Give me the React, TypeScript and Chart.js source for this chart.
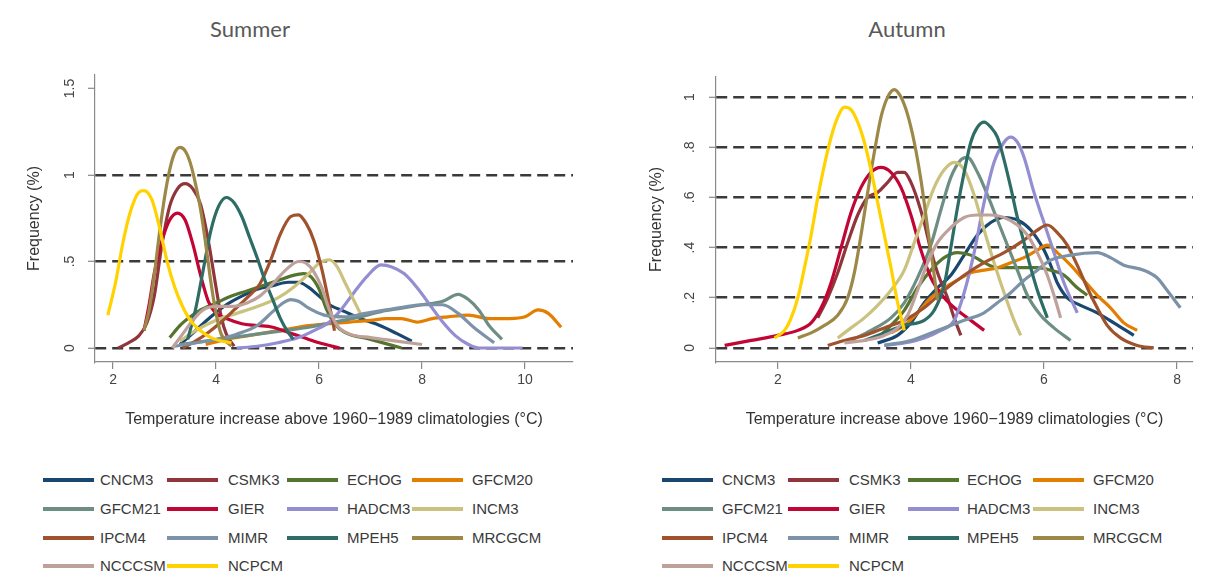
import React, { useEffect, useRef } from "react";
import { Chart, registerables } from "chart.js";
Chart.register(...registerables);

// ---------- data ----------
const MODELS = ["CNCM3", "CSMK3", "ECHOG", "GFCM20", "GFCM21", "GIER", "HADCM3", "INCM3", "IPCM4", "MIMR", "MPEH5", "MRCGCM", "NCCCSM", "NCPCM"];
const COLORS = ["#1a476f", "#90353b", "#55752f", "#e37e00", "#6e8e84", "#c10534", "#938dd2", "#cac27e", "#a0522d", "#7b92a8", "#2d6d66", "#9c8847", "#bfa19c", "#ffd200"];

const X_TITLE = "Temperature increase above 1960\u22121989 climatologies (\u00B0C)";
const Y_TITLE = "Frequency (%)";

const summerXTicks = [2, 4, 6, 8, 10];
const summerYTicks = [0, 0.5, 1, 1.5];
const summerYLabels = ["0", ".5", "1", "1.5"];
const summerDashed = [0, 0.5, 1];

const autumnXTicks = [2, 4, 6, 8];
const autumnYTicks = [0, 0.2, 0.4, 0.6, 0.8, 1];
const autumnYLabels = ["0", ".2", ".4", ".6", ".8", "1"];
const autumnDashed = [0, 0.2, 0.4, 0.6, 0.8, 1];

// Summer series [temperature, frequency]
const summerCNCM3 = [[3.3, 0.02], [3.6, 0.1], [3.9, 0.18], [4.2, 0.25], [4.5, 0.3], [4.8, 0.34], [5.1, 0.36], [5.4, 0.38], [5.6, 0.38], [5.8, 0.35], [6.0, 0.3], [6.2, 0.25], [6.5, 0.21], [6.8, 0.17], [7.1, 0.14], [7.4, 0.1], [7.6, 0.07], [7.8, 0.04]];
const summerCSMK3 = [[2.1, 0], [2.3, 0.03], [2.5, 0.07], [2.65, 0.14], [2.8, 0.3], [2.95, 0.6], [3.1, 0.82], [3.25, 0.92], [3.4, 0.95], [3.55, 0.92], [3.7, 0.83], [3.85, 0.62], [4.0, 0.35], [4.1, 0.18], [4.2, 0.08], [4.35, 0.01]];
const summerECHOG = [[3.1, 0.06], [3.3, 0.13], [3.5, 0.18], [3.7, 0.22], [4.0, 0.26], [4.3, 0.3], [4.6, 0.33], [4.9, 0.36], [5.2, 0.39], [5.5, 0.42], [5.7, 0.43], [5.85, 0.41], [6.0, 0.34], [6.15, 0.22], [6.3, 0.14], [6.5, 0.09], [7.0, 0.05], [7.6, 0.0]];
const summerGFCM20 = [[3.8, 0.02], [4.2, 0.05], [4.6, 0.07], [5.0, 0.09], [5.4, 0.11], [5.8, 0.13], [6.2, 0.14], [6.6, 0.15], [7.0, 0.16], [7.3, 0.17], [7.6, 0.17], [7.9, 0.15], [8.2, 0.17], [8.5, 0.18], [8.9, 0.19], [9.3, 0.17], [9.7, 0.17], [10.0, 0.18], [10.25, 0.22], [10.45, 0.2], [10.7, 0.12]];
const summerGFCM21 = [[3.3, 0.02], [3.8, 0.04], [4.3, 0.06], [4.8, 0.08], [5.3, 0.1], [5.8, 0.12], [6.3, 0.15], [6.8, 0.18], [7.2, 0.21], [7.6, 0.23], [8.0, 0.25], [8.4, 0.27], [8.7, 0.31], [8.9, 0.28], [9.1, 0.22], [9.3, 0.13], [9.55, 0.05]];
const summerGIER = [[2.6, 0.1], [2.7, 0.25], [2.8, 0.43], [2.95, 0.62], [3.1, 0.74], [3.25, 0.78], [3.4, 0.74], [3.55, 0.6], [3.7, 0.42], [3.85, 0.27], [4.0, 0.2], [4.2, 0.17], [4.5, 0.14], [4.8, 0.13], [5.1, 0.12], [5.4, 0.09], [5.7, 0.06], [6.0, 0.03], [6.4, 0.0]];
const summerHADCM3 = [[4.4, 0.0], [4.8, 0.01], [5.2, 0.03], [5.6, 0.06], [5.9, 0.1], [6.2, 0.15], [6.45, 0.23], [6.7, 0.33], [6.95, 0.42], [7.2, 0.48], [7.4, 0.47], [7.65, 0.43], [7.9, 0.35], [8.15, 0.25], [8.4, 0.15], [8.65, 0.07], [8.9, 0.02], [9.1, 0.0], [9.5, 0.0], [9.95, 0.0]];
const summerINCM3 = [[3.3, 0.04], [3.6, 0.1], [4.0, 0.16], [4.4, 0.2], [4.8, 0.24], [5.2, 0.29], [5.5, 0.35], [5.8, 0.43], [6.0, 0.49], [6.2, 0.51], [6.35, 0.47], [6.5, 0.38], [6.65, 0.29], [6.8, 0.2]];
const summerIPCM4 = [[3.35, 0.0], [3.6, 0.04], [3.85, 0.09], [4.1, 0.15], [4.35, 0.22], [4.6, 0.29], [4.85, 0.37], [5.05, 0.5], [5.25, 0.66], [5.45, 0.76], [5.6, 0.77], [5.75, 0.72], [5.9, 0.62], [6.05, 0.46], [6.2, 0.25], [6.3, 0.1]];
const summerMIMR = [[3.2, 0.01], [3.6, 0.03], [4.0, 0.05], [4.4, 0.08], [4.8, 0.13], [5.1, 0.21], [5.3, 0.26], [5.45, 0.28], [5.6, 0.27], [5.8, 0.23], [6.1, 0.19], [6.5, 0.18], [6.9, 0.2], [7.3, 0.22], [7.7, 0.24], [8.0, 0.25], [8.4, 0.25], [8.7, 0.2], [9.0, 0.12], [9.4, 0.03]];
const summerMPEH5 = [[3.45, 0.05], [3.6, 0.22], [3.75, 0.45], [3.9, 0.68], [4.05, 0.82], [4.2, 0.87], [4.35, 0.84], [4.5, 0.76], [4.65, 0.64], [4.8, 0.52], [4.95, 0.39], [5.1, 0.28], [5.25, 0.17], [5.4, 0.09], [5.5, 0.05]];
const summerMRCGCM = [[2.6, 0.1], [2.7, 0.22], [2.8, 0.42], [2.9, 0.66], [3.0, 0.87], [3.1, 1.03], [3.2, 1.13], [3.3, 1.16], [3.4, 1.14], [3.5, 1.07], [3.6, 0.95], [3.7, 0.8], [3.8, 0.6], [3.9, 0.38], [4.0, 0.2], [4.1, 0.08], [4.3, 0.01]];
const summerNCCCSM = [[3.15, 0.0], [3.35, 0.08], [3.55, 0.16], [3.75, 0.22], [4.0, 0.24], [4.3, 0.24], [4.6, 0.26], [4.85, 0.3], [5.1, 0.37], [5.35, 0.45], [5.6, 0.5], [5.75, 0.49], [5.9, 0.44], [6.05, 0.35], [6.2, 0.22], [6.35, 0.13], [6.6, 0.08], [7.0, 0.06], [7.5, 0.04], [8.0, 0.02]];
const summerNCPCM = [[1.9, 0.19], [2.05, 0.38], [2.2, 0.62], [2.35, 0.8], [2.5, 0.9], [2.6, 0.91], [2.75, 0.86], [2.9, 0.7], [3.05, 0.5], [3.2, 0.35], [3.35, 0.24], [3.5, 0.16], [3.7, 0.1], [3.9, 0.06], [4.1, 0.04], [4.3, 0.03]];

// Autumn series [temperature, frequency]
const autumnCNCM3 = [[3.5, 0.02], [3.8, 0.05], [4.0, 0.1], [4.2, 0.18], [4.4, 0.24], [4.6, 0.29], [4.8, 0.37], [5.0, 0.45], [5.2, 0.5], [5.4, 0.52], [5.6, 0.51], [5.8, 0.47], [6.0, 0.39], [6.1, 0.33], [6.2, 0.26], [6.35, 0.2], [6.55, 0.17], [6.8, 0.14], [7.05, 0.1], [7.35, 0.05]];
const autumnCSMK3 = [[2.6, 0.12], [2.75, 0.2], [2.9, 0.3], [3.05, 0.42], [3.2, 0.53], [3.35, 0.6], [3.5, 0.62], [3.65, 0.66], [3.8, 0.7], [3.9, 0.7], [4.0, 0.66], [4.1, 0.59], [4.2, 0.5], [4.3, 0.39], [4.4, 0.3], [4.55, 0.2], [4.65, 0.12], [4.75, 0.05]];
const autumnECHOG = [[3.5, 0.04], [3.7, 0.09], [3.9, 0.15], [4.1, 0.24], [4.3, 0.31], [4.5, 0.36], [4.7, 0.38], [4.9, 0.37], [5.1, 0.34], [5.3, 0.32], [5.6, 0.32], [5.9, 0.32], [6.1, 0.31], [6.3, 0.29], [6.5, 0.24], [6.65, 0.21]];
const autumnGFCM20 = [[3.7, 0.06], [3.9, 0.09], [4.1, 0.14], [4.3, 0.2], [4.5, 0.24], [4.7, 0.27], [4.9, 0.3], [5.1, 0.31], [5.3, 0.32], [5.5, 0.34], [5.7, 0.36], [5.9, 0.39], [6.05, 0.41], [6.2, 0.38], [6.4, 0.33], [6.6, 0.27], [6.8, 0.21], [7.0, 0.16], [7.2, 0.1], [7.4, 0.07]];
const autumnGFCM21 = [[3.1, 0.03], [3.4, 0.07], [3.7, 0.12], [3.9, 0.18], [4.1, 0.28], [4.3, 0.41], [4.45, 0.55], [4.6, 0.68], [4.75, 0.75], [4.85, 0.76], [5.0, 0.7], [5.15, 0.61], [5.3, 0.51], [5.45, 0.41], [5.6, 0.31], [5.75, 0.21], [5.95, 0.13], [6.15, 0.08], [6.4, 0.03]];
const autumnGIER = [[1.2, 0.01], [1.6, 0.03], [2.0, 0.05], [2.3, 0.07], [2.5, 0.1], [2.65, 0.16], [2.8, 0.26], [2.95, 0.4], [3.1, 0.54], [3.25, 0.64], [3.4, 0.7], [3.55, 0.72], [3.7, 0.7], [3.85, 0.64], [4.0, 0.53], [4.15, 0.39], [4.3, 0.28], [4.5, 0.2], [4.7, 0.15], [4.9, 0.11], [5.1, 0.07]];
const autumnHADCM3 = [[3.6, 0.01], [3.9, 0.02], [4.2, 0.04], [4.45, 0.07], [4.65, 0.11], [4.8, 0.22], [4.95, 0.38], [5.1, 0.58], [5.25, 0.74], [5.4, 0.82], [5.5, 0.84], [5.6, 0.82], [5.7, 0.76], [5.85, 0.62], [6.0, 0.5], [6.15, 0.38], [6.3, 0.26], [6.5, 0.14]];
const autumnINCM3 = [[2.9, 0.04], [3.1, 0.08], [3.3, 0.12], [3.5, 0.17], [3.7, 0.23], [3.9, 0.31], [4.05, 0.42], [4.2, 0.53], [4.35, 0.64], [4.5, 0.71], [4.65, 0.74], [4.8, 0.71], [4.95, 0.61], [5.1, 0.47], [5.25, 0.34], [5.4, 0.22], [5.55, 0.11], [5.65, 0.05]];
const autumnIPCM4 = [[2.75, 0.01], [3.0, 0.03], [3.3, 0.05], [3.6, 0.08], [3.9, 0.11], [4.2, 0.16], [4.5, 0.23], [4.8, 0.29], [5.1, 0.34], [5.4, 0.38], [5.7, 0.43], [5.9, 0.47], [6.05, 0.49], [6.2, 0.46], [6.35, 0.41], [6.5, 0.33], [6.65, 0.24], [6.8, 0.16], [6.95, 0.09], [7.15, 0.04], [7.4, 0.01], [7.65, 0.0]];
const autumnMIMR = [[3.6, 0.01], [4.0, 0.03], [4.4, 0.07], [4.8, 0.11], [5.1, 0.14], [5.3, 0.18], [5.5, 0.22], [5.7, 0.27], [5.9, 0.31], [6.1, 0.35], [6.4, 0.37], [6.8, 0.38], [7.0, 0.36], [7.2, 0.33], [7.5, 0.31], [7.7, 0.28], [7.85, 0.23], [8.05, 0.16]];
const autumnMPEH5 = [[3.3, 0.03], [3.6, 0.06], [3.9, 0.09], [4.2, 0.11], [4.35, 0.15], [4.5, 0.25], [4.6, 0.4], [4.7, 0.56], [4.8, 0.7], [4.9, 0.82], [5.0, 0.88], [5.1, 0.9], [5.2, 0.88], [5.3, 0.84], [5.4, 0.75], [5.5, 0.64], [5.6, 0.52], [5.7, 0.42], [5.8, 0.32], [5.9, 0.23], [6.05, 0.12]];
const autumnMRCGCM = [[2.3, 0.04], [2.5, 0.06], [2.7, 0.09], [2.9, 0.13], [3.05, 0.2], [3.15, 0.3], [3.25, 0.45], [3.35, 0.62], [3.45, 0.78], [3.55, 0.92], [3.65, 1.0], [3.75, 1.03], [3.85, 1.0], [3.95, 0.93], [4.05, 0.82], [4.15, 0.67], [4.25, 0.48], [4.35, 0.29], [4.4, 0.19]];
const autumnNCCCSM = [[3.0, 0.02], [3.3, 0.03], [3.6, 0.05], [3.8, 0.08], [3.95, 0.13], [4.1, 0.23], [4.25, 0.34], [4.4, 0.42], [4.6, 0.48], [4.8, 0.52], [5.0, 0.53], [5.2, 0.53], [5.4, 0.52], [5.6, 0.49], [5.75, 0.45], [5.9, 0.38], [6.05, 0.29], [6.15, 0.21], [6.25, 0.12]];
const autumnNCPCM = [[1.95, 0.04], [2.1, 0.07], [2.2, 0.12], [2.3, 0.2], [2.4, 0.32], [2.5, 0.45], [2.6, 0.6], [2.7, 0.73], [2.8, 0.84], [2.9, 0.92], [3.0, 0.96], [3.1, 0.95], [3.2, 0.9], [3.3, 0.82], [3.4, 0.71], [3.5, 0.58], [3.6, 0.45], [3.7, 0.32], [3.8, 0.18], [3.9, 0.07]];

const summerSeries = [summerCNCM3, summerCSMK3, summerECHOG, summerGFCM20, summerGFCM21, summerGIER, summerHADCM3, summerINCM3, summerIPCM4, summerMIMR, summerMPEH5, summerMRCGCM, summerNCCCSM, summerNCPCM];
const autumnSeries = [autumnCNCM3, autumnCSMK3, autumnECHOG, autumnGFCM20, autumnGFCM21, autumnGIER, autumnHADCM3, autumnINCM3, autumnIPCM4, autumnMIMR, autumnMPEH5, autumnMRCGCM, autumnNCCCSM, autumnNCPCM];

// ---------- chart ----------
const FONT = "'Liberation Sans', Arial, Helvetica, sans-serif";
const CANVAS_H = 440;

type PanelProps = {
  left: number; width: number; padTop: number; padRight: number; yAxisWidth: number;
  series: number[][][]; xMin: number; xMax: number; yMin: number; yMax: number;
  xTicks: number[]; yTicks: number[]; yLabels: string[]; dashed: number[];
  yTickPad: number; yTitlePad: number;
};

function Panel(p: PanelProps) {
  const ref = useRef<HTMLCanvasElement | null>(null);
  useEffect(() => {
    if (!ref.current) return;
    const n = MODELS.length;
    const chart = new Chart(ref.current, {
      type: "line",
      data: {
        datasets: MODELS.map((m, i) => ({
          label: m,
          data: p.series[i].map(([x, y]) => ({ x, y })),
          borderColor: COLORS[i],
          backgroundColor: COLORS[i],
          borderWidth: 3.2,
          pointRadius: 0,
          fill: false,
          cubicInterpolationMode: "monotone" as const,
          order: n - i,
        })),
      },
      options: {
        animation: false,
        responsive: false,
        maintainAspectRatio: false,
        layout: { padding: { top: p.padTop, right: p.padRight, left: 0, bottom: 0 } },
        plugins: { legend: { display: false }, tooltip: { enabled: false }, title: { display: false } },
        scales: {
          x: {
            type: "linear",
            min: p.xMin,
            max: p.xMax,
            afterBuildTicks: (s: any) => { s.ticks = p.xTicks.map((v) => ({ value: v })); },
            afterFit: (s: any) => { s.height = CANVAS_H - 362; },
            ticks: { autoSkip: false, maxRotation: 0, padding: 3, color: "#444", font: { family: FONT, size: 14 }, callback: (v: any) => String(v) },
            grid: { drawOnChartArea: false, drawTicks: true, tickLength: 7, color: "#888", lineWidth: 1.2 },
            border: { display: true, color: "#8a8a8a", width: 1.2 },
            title: { display: true, text: X_TITLE, color: "#333", font: { family: FONT, size: 16 }, padding: { top: 0, bottom: 10.4 } },
          },
          y: {
            type: "linear",
            min: p.yMin,
            max: p.yMax,
            afterBuildTicks: (s: any) => { s.ticks = p.yTicks.map((v) => ({ value: v })); },
            afterFit: (s: any) => { s.width = p.yAxisWidth; },
            ticks: {
              minRotation: 90, maxRotation: 90, crossAlign: "center", padding: p.yTickPad, color: "#444",
              font: { family: FONT, size: 14 },
              callback: (_v: any, idx: number) => p.yLabels[idx],
            },
            grid: {
              color: (c: any) => (c.tick && p.dashed.includes(c.tick.value) ? "#3a3a3a" : "rgba(0,0,0,0)"),
              lineWidth: 2.6, tickLength: 7, tickColor: "#888", tickWidth: 1.2, tickBorderDash: [],
            },
            border: { display: true, color: "#8a8a8a", width: 1.2, dash: [11, 6] },
            title: { display: true, text: Y_TITLE, color: "#333", font: { family: FONT, size: 16 }, padding: { top: p.yTitlePad, bottom: 0 } },
          },
        },
      },
    } as any);
    return () => chart.destroy();
  }, []);
  return (
    <canvas
      ref={ref}
      width={p.width}
      height={CANVAS_H}
      style={{ position: "absolute", left: p.left, top: 0, width: p.width, height: CANVAS_H }}
    />
  );
}

// ---------- legend ----------
const legendRowsY = [480, 509, 538, 566];
const summerLegendCols = [{ line: 43, text: 100 }, { line: 167, text: 228 }, { line: 287, text: 347 }, { line: 412, text: 472 }];
const autumnLegendCols = [{ line: 662, text: 722 }, { line: 788, text: 849 }, { line: 908, text: 967 }, { line: 1033, text: 1093 }];

function Legend({ cols }: { cols: { line: number; text: number }[] }) {
  return (
    <>
      {MODELS.map((m, i) => {
        const row = Math.floor(i / 4);
        const col = i % 4;
        const y = legendRowsY[row];
        return (
          <React.Fragment key={m}>
            <div style={{ position: "absolute", left: cols[col].line, top: y - 2, width: 51, height: 4, background: COLORS[i] }} />
            <div style={{ position: "absolute", left: cols[col].text, top: y - 9, height: 18, lineHeight: "18px", fontFamily: FONT, fontSize: 15, color: "#3a3a3a", whiteSpace: "nowrap" }}>{m}</div>
          </React.Fragment>
        );
      })}
    </>
  );
}

export default function App() {
  const titleStyle: React.CSSProperties = {
    position: "absolute", top: 15, width: 200, textAlign: "center", fontFamily: "Lato, 'Open Sans', sans-serif",
    fontSize: 22, lineHeight: "28px", color: "#595959",
  };
  return (
    <div style={{ position: "fixed", left: 0, top: 0, width: 1209, height: 586, background: "#fff", overflow: "hidden" }}>
      <div style={{ ...titleStyle, left: 150 }}>Summer</div>
      <div style={{ ...titleStyle, left: 807 }}>Autumn</div>
      <Panel
        left={0} width={604} padTop={75} padRight={31} yAxisWidth={95}
        series={summerSeries} xMin={1.65} xMax={10.93} yMin={-0.081} yMax={1.578}
        xTicks={summerXTicks} yTicks={summerYTicks} yLabels={summerYLabels} dashed={summerDashed}
        yTickPad={8.3} yTitlePad={25.4}
      />
      <Panel
        left={604} width={605} padTop={77} padRight={16} yAxisWidth={112}
        series={autumnSeries} xMin={1.07} xMax={8.24} yMin={-0.056} yMax={1.08}
        xTicks={autumnXTicks} yTicks={autumnYTicks} yLabels={autumnYLabels} dashed={autumnDashed}
        yTickPad={13.2} yTitlePad={43.4}
      />
      <Legend cols={summerLegendCols} />
      <Legend cols={autumnLegendCols} />
    </div>
  );
}
